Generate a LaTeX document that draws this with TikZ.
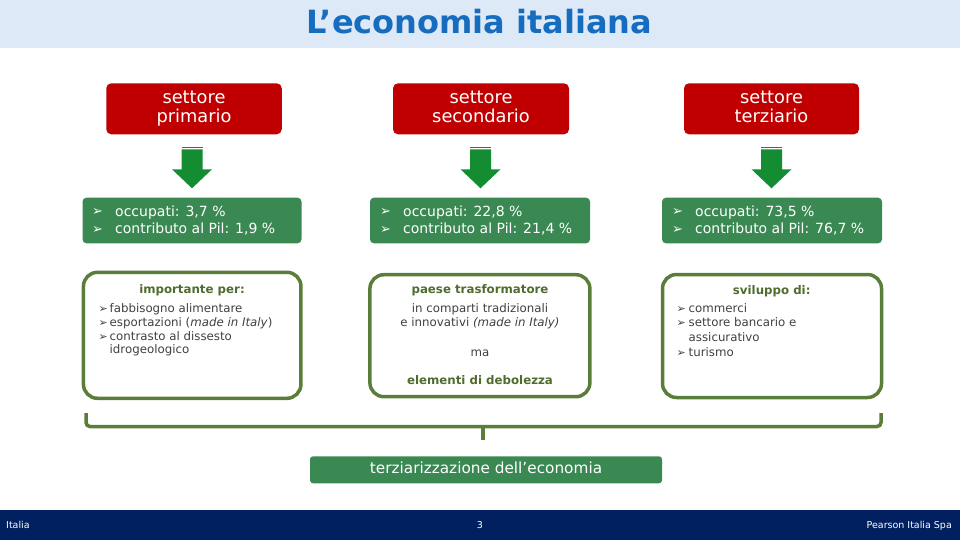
\documentclass[tikz,border=0pt]{standalone}
\usepackage{fontspec}
\setmainfont{DejaVu Sans}
\newfontfamily\titlefont{DejaVu Sans}
\usetikzlibrary{calc}
\definecolor{bandblue}{RGB}{221,233,246}
\definecolor{titleblue}{RGB}{22,108,190}
\definecolor{redbox}{RGB}{192,0,0}
\definecolor{greenbox}{RGB}{58,136,82}
\definecolor{arrowgreen}{RGB}{20,140,50}
\definecolor{olive}{RGB}{91,125,58}
\definecolor{olivetext}{RGB}{79,107,46}
\definecolor{greytext}{RGB}{64,64,64}
\definecolor{navy}{RGB}{0,32,96}
\newcommand\fs[2]{\fontsize{#1pt}{#2pt}\selectfont}
\newcommand\wbul{\makebox[23pt][l]{\raisebox{0.3pt}{\fs{13}{13}➢}}}
\newcommand\gbulA{\makebox[11pt][l]{\fs{11}{11}➢}}
\newcommand\gbulC{\makebox[12pt][l]{\fs{11}{11}➢}}
\begin{document}
\begin{tikzpicture}[x=1pt,y=-1pt,
  sector/.style={fill=redbox, rounded corners=5pt, inner sep=0pt, minimum height=51pt},
  sectortext/.style={text=white, font=\fs{17.8}{19}, inner sep=0pt, anchor=mid},
  stat/.style={fill=greenbox, rounded corners=4pt, inner sep=0pt, minimum height=45.7pt},
  stattext/.style={text=white, font=\fs{14}{17}, inner sep=0pt, anchor=mid west},
  panel/.style={draw=olive, line width=3.5pt, rounded corners=14pt, inner sep=0pt},
  ptitle/.style={text=olivetext, font=\fs{11.8}{14}\bfseries, inner sep=0pt, anchor=mid},
  ptext/.style={text=greytext, font=\fs{11.8}{14}, inner sep=0pt, anchor=mid west},
  pctext/.style={text=greytext, font=\fs{11.8}{14}, inner sep=0pt, anchor=mid},
  foot/.style={text=white, font=\fs{9.5}{11}, inner sep=0pt},
  downblock/.pic={
    \fill[arrowgreen] (-10.5,0) rectangle (10.5,1.5);
    \fill[arrowgreen] (-10.5,2.6) -- (10.5,2.6) -- (10.5,22.6) -- (20,22.6)
      -- (0,41.6) -- (-20,22.6) -- (-10.5,22.6) -- cycle;
  },
  brace/.style={draw=olive, line width=3.5pt}
]
\useasboundingbox (0,0) rectangle (960,540);
% title band
\fill[bandblue] (0,0) rectangle (960,48.5);
\node[text=titleblue, font=\titlefont\bfseries\fs{32}{36}, inner sep=0pt, anchor=base] (title) at (479.5,33.5) {L’economia italiana};

% sector boxes
\node[sector, minimum width=175.5pt] (r1) at (194,108.8) {};
\node[sector, minimum width=176pt] (r2) at (481,108.8) {};
\node[sector, minimum width=175pt] (r3) at (771.5,108.8) {};
\node[sectortext] (r1a) at (194,100.7) {settore};
\node[sectortext] (r1b) at (194,120) {primario};
\node[sectortext] (r2a) at (481,100.7) {settore};
\node[sectortext] (r2b) at (481,120) {secondario};
\node[sectortext] (r3a) at (771.5,100.7) {settore};
\node[sectortext] (r3b) at (771.5,120) {terziario};

% block arrows
\coordinate (a1) at (192,146.7);
\coordinate (a2) at (480.5,146.7);
\coordinate (a3) at (771.5,146.7);
\pic at (a1) {downblock};
\pic at (a2) {downblock};
\pic at (a3) {downblock};

% stat boxes
\node[stat, minimum width=219pt] (s1) at (192,220.5) {};
\node[stat, minimum width=220pt] (s2) at (480,220.5) {};
\node[stat, minimum width=220pt] (s3) at (772,220.5) {};
\node[stattext] (s1a) at (92,213.3) {\wbul occupati: 3,7 \%};
\node[stattext] (s1b) at (92,230.7) {\wbul contributo al Pil: 1,9 \%};
\node[stattext] (s2a) at (380,213.3) {\wbul occupati: 22,8 \%};
\node[stattext] (s2b) at (380,230.7) {\wbul contributo al Pil: 21,4 \%};
\node[stattext] (s3a) at (672,213.3) {\wbul occupati: 73,5 \%};
\node[stattext] (s3b) at (672,230.7) {\wbul contributo al Pil: 76,7 \%};

% panels
\node[panel, minimum width=217.5pt, minimum height=126pt] (p1) at (192.2,335.3) {};
\node[panel, minimum width=220pt, minimum height=122pt] (p2) at (479.9,335.7) {};
\node[panel, minimum width=219pt, minimum height=123pt] (p3) at (772,336) {};

\node[ptitle] (p1t) at (192,290.7) {importante per:};
\node[ptext] (p1a) at (98.5,309.3) {\gbulA fabbisogno alimentare};
\node[ptext] (p1b) at (98.5,323.3) {\gbulA esportazioni (\textit{made in Italy})};
\node[ptext] (p1c) at (98.5,337.7) {\gbulA contrasto al dissesto};
\node[ptext] (p1d) at (109.5,350.7) {idrogeologico};

\node[ptitle] (p2t) at (480,291) {paese trasformatore};
\node[pctext] (p2a) at (480,310) {in comparti tradizionali};
\node[pctext] (p2b) at (480,323.3) {e innovativi \textit{(made in Italy)}};
\node[pctext] (p2c) at (480,353.3) {ma};
\node[ptitle] (p2d) at (480,381.7) {elementi di debolezza};

\node[ptitle] (p3t) at (771.7,291.7) {sviluppo di:};
\node[ptext] (p3a) at (676.5,310) {\gbulC commerci};
\node[ptext] (p3b) at (676.5,324) {\gbulC settore bancario e};
\node[ptext] (p3c) at (688.5,339) {assicurativo};
\node[ptext] (p3d) at (676.5,353.3) {\gbulC turismo};

% brace
\coordinate (bL) at (86,413);
\coordinate (bR) at (881,413);
\coordinate (bM) at (483,426.5);
\node[fill=greenbox, rounded corners=3pt, minimum width=352pt, minimum height=27pt, inner sep=0pt] (t) at (486,469.8) {};
\node[text=white, font=\fs{15.3}{17}, inner sep=0pt, anchor=mid] (tt) at (486,470.7) {terziarizzazione dell’economia};
\draw[brace, rounded corners=4pt] (bL) -- (bL |- bM) -- (bR |- bM) -- (bR);
\draw[brace] (bM) -- (bM |- 0,440);

% footer
\fill[navy] (0,510) rectangle (960,540);
\node[foot, anchor=mid west] (f1) at (6,525.7) {Italia};
\node[foot, anchor=mid] (f2) at (480,525.7) {3};
\node[foot, anchor=mid east] (f3) at (952,525.7) {Pearson Italia Spa};
\end{tikzpicture}
\end{document}
